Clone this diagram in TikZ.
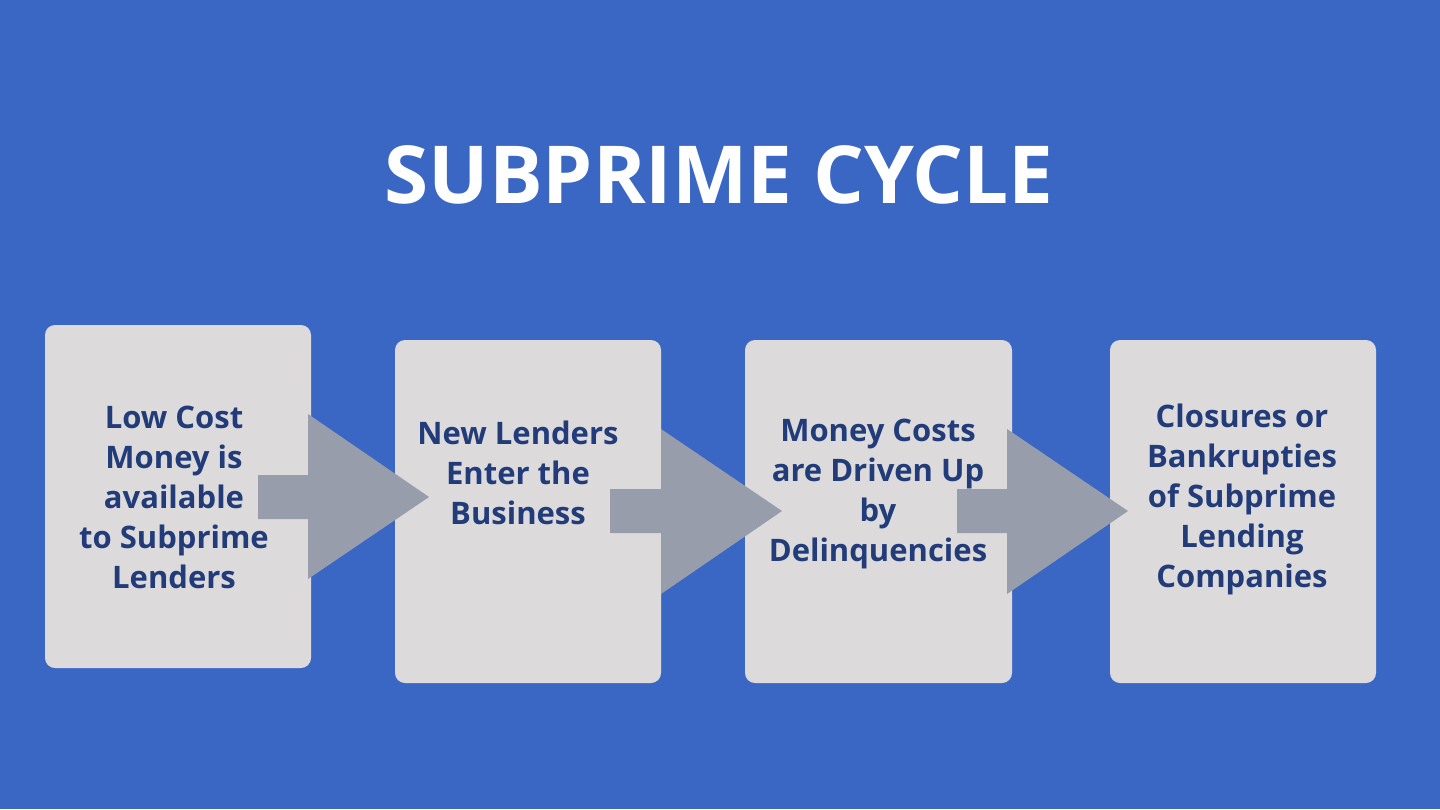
\documentclass[tikz,border=0pt]{standalone}
\usepackage{fontspec}
\setmainfont{Open Sans}
\definecolor{bgblue}{HTML}{3A67C4}
\definecolor{boxgray}{HTML}{DCDADB}
\definecolor{arrowgray}{HTML}{979DAA}
\definecolor{textnavy}{HTML}{213C79}
\begin{document}
\begin{tikzpicture}[x=1pt,y=-1pt,
  stepbox/.style={fill=boxgray, rounded corners=10pt},
  steptext/.style={text=textnavy, align=center, font=\fontsize{31}{40}\selectfont\bfseries, inner sep=0pt},
  blockarrow/.style={fill=arrowgray}]
\fill[bgblue] (0,0) rectangle (1440,809);
\useasboundingbox (0,0) rectangle (1440,809);
\node[text=white, font=\fontsize{80}{90}\selectfont\bfseries, inner sep=0pt] (title) at (719,175) {SUBPRIME CYCLE};
% boxes
\fill[stepbox] (45,325) rectangle (311,668) coordinate (b1);
\fill[stepbox] (395,340) rectangle (661,683) coordinate (b2);
\fill[stepbox] (745,340) rectangle (1012,683) coordinate (b3);
\fill[stepbox] (1110,340) rectangle (1376,683) coordinate (b4);
% arrows
\fill[blockarrow] (258,475) -- (308,475) -- (308,414) -- (429,497) -- (308,579) -- (308,519) -- (258,519) -- cycle;
\fill[blockarrow] (610,489) -- (661,489) -- (661,429) -- (782,511) -- (661,594) -- (661,533) -- (610,533) -- cycle;
\fill[blockarrow] (957,489) -- (1007,489) -- (1007,429) -- (1128,511) -- (1007,594) -- (1007,533) -- (957,533) -- cycle;
% texts
\node[steptext] (t1) at (174,497) {Low Cost\\Money is\\available\\to Subprime\\Lenders};
\node[steptext] (t2) at (518,473) {New Lenders\\Enter the\\Business};
\node[steptext] (t3) at (878,494) {Money Costs\\are Driven Up\\by\\Delinquencies};
\node[steptext] (t4) at (1242,499) {Closures or\\Bankrupties\\of Subprime\\Lending\\Companies};
\end{tikzpicture}
\end{document}
